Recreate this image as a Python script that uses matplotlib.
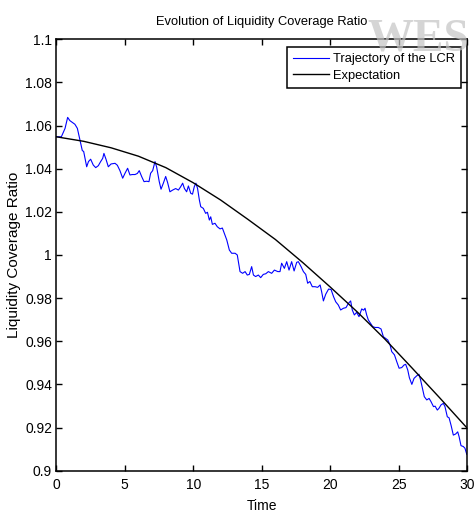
import matplotlib
matplotlib.use("Agg")
import matplotlib.pyplot as plt

# simulated LCR path (time, ratio)
lcr_t = [0.0, 0.37, 0.64, 0.83, 0.99, 1.2, 1.36, 1.54, 1.73, 1.9, 2.0, 2.22, 2.35, 2.51, 2.7,
         2.88, 3.07, 3.24, 3.39, 3.48, 3.63, 3.8, 4.0, 4.29, 4.46, 4.65, 4.85, 5.02, 5.21, 5.38,
         5.55, 5.75, 5.92, 6.06, 6.24, 6.41, 6.6, 6.77, 6.89, 7.04, 7.21, 7.33, 7.52, 7.65, 7.82,
         7.99, 8.13, 8.3, 8.5, 8.72, 8.92, 9.09, 9.23, 9.36, 9.52, 9.65, 9.82, 9.95, 10.08, 10.2,
         10.32, 10.45, 10.55, 10.74, 10.91, 11.04, 11.18, 11.28, 11.4, 11.59, 11.76, 11.96, 12.13,
         12.27, 12.45, 12.64, 12.81, 13.06, 13.22, 13.42, 13.61, 13.79, 13.95, 14.1, 14.27, 14.4,
         14.56, 14.76, 14.93, 15.12, 15.3, 15.49, 15.73, 15.93, 16.18, 16.34, 16.46, 16.66, 16.83,
         17.0, 17.19, 17.37, 17.56, 17.68, 17.88, 18.05, 18.22, 18.36, 18.52, 18.7, 18.9, 19.09,
         19.27, 19.38, 19.51, 19.68, 19.89, 20.07, 20.25, 20.41, 20.6, 20.77, 20.97, 21.16, 21.34,
         21.5, 21.62, 21.77, 21.94, 22.11, 22.31, 22.45, 22.55, 22.67, 22.79, 22.96, 23.11, 23.28,
         23.52, 23.72, 23.89, 24.06, 24.21, 24.38, 24.5, 24.7, 24.87, 25.04, 25.23, 25.4, 25.52,
         25.67, 25.79, 25.97, 26.13, 26.33, 26.49, 26.61, 26.74, 26.88, 27.06, 27.23, 27.37, 27.55,
         27.67, 27.83, 27.95, 28.1, 28.27, 28.39, 28.56, 28.69, 28.84, 29.0, 29.17, 29.32, 29.42,
         29.56, 29.73, 29.85, 29.98]
lcr_v = [1.0548, 1.0548, 1.0587, 1.0638, 1.0623, 1.0613, 1.0606, 1.0587, 1.0533, 1.0484, 1.048,
         1.0409, 1.0433, 1.0444, 1.0417, 1.0405, 1.0414, 1.0433, 1.0448, 1.0471, 1.0444, 1.0409,
         1.0422, 1.0425, 1.0416, 1.0391, 1.0356, 1.0379, 1.0402, 1.0371, 1.0373, 1.0373, 1.0378,
         1.0391, 1.0363, 1.034, 1.0342, 1.034, 1.0379, 1.0391, 1.0433, 1.0408, 1.034, 1.0305,
         1.0333, 1.0364, 1.0336, 1.0293, 1.0301, 1.0308, 1.0301, 1.0317, 1.0333, 1.0308, 1.0293,
         1.032, 1.0286, 1.0282, 1.0317, 1.0333, 1.0308, 1.0255, 1.0224, 1.0216, 1.0193, 1.0198,
         1.0162, 1.0177, 1.0142, 1.0147, 1.0131, 1.0121, 1.0125, 1.0101, 1.007, 1.0023, 1.0008,
         1.0008, 1.0, 0.9923, 0.9915, 0.9923, 0.9907, 0.991, 0.9946, 0.9907, 0.990, 0.9907, 0.9895,
         0.991, 0.9913, 0.9923, 0.9915, 0.993, 0.9923, 0.9923, 0.9962, 0.9938, 0.9969, 0.993,
         0.9969, 0.9926, 0.9966, 0.9969, 0.9946, 0.9923, 0.991, 0.9869, 0.9877, 0.9853, 0.9853,
         0.985, 0.9861, 0.983, 0.9787, 0.9818, 0.9842, 0.984, 0.9807, 0.9783, 0.9768, 0.9745,
         0.9753, 0.9756, 0.9776, 0.9787, 0.9745, 0.9722, 0.9734, 0.9714, 0.975, 0.9744, 0.9753,
         0.9722, 0.9699, 0.9683, 0.9668, 0.9664, 0.9664, 0.9657, 0.9621, 0.9613, 0.9606, 0.9583,
         0.9552, 0.9537, 0.9505, 0.9475, 0.9478, 0.949, 0.9493, 0.9467, 0.9431, 0.940, 0.9428,
         0.944, 0.9447, 0.942, 0.9382, 0.9343, 0.9328, 0.9335, 0.932, 0.9297, 0.9299, 0.9281,
         0.9289, 0.9305, 0.9312, 0.9297, 0.925, 0.9245, 0.9209, 0.9165, 0.917, 0.918, 0.9158,
         0.9116, 0.9112, 0.9104, 0.9076]

# expected LCR
exp_t = [0, 2, 4, 6, 8, 10, 12, 14, 16, 18, 20, 22, 24, 26, 28, 30]
exp_v = [1.0548, 1.0527, 1.0497, 1.0458, 1.0405, 1.0335, 1.0255, 1.0165, 1.0072, 0.9965,
         0.9852, 0.9735, 0.961, 0.9475, 0.9338, 0.9198]

xticks = [0, 5, 10, 15, 20, 25, 30]
yticks = [0.9, 0.92, 0.94, 0.96, 0.98, 1.0, 1.02, 1.04, 1.06, 1.08, 1.1]
ytick_labels = ["0.9", "0.92", "0.94", "0.96", "0.98", "1", "1.02", "1.04", "1.06", "1.08", "1.1"]

plt.rcParams["font.family"] = ["Liberation Sans", "DejaVu Sans"]

fig = plt.figure(figsize=(4.75, 5.13), dpi=100)
ax = fig.add_axes([0.1185, 0.0825, 0.8647, 0.8409])

# faint site watermark behind the plot
fig.text(0.773, 0.902, "WES", family=["Liberation Serif", "DejaVu Serif"], fontsize=33,
         fontweight="bold", color="#c4c4c4", alpha=0.7, zorder=0)

ax.plot(lcr_t, lcr_v, color="#0000ff", lw=0.8, label="Trajectory of the LCR")
ax.plot(exp_t, exp_v, color="black", lw=1.0, label="Expectation")

ax.set_xlim(0, 30)
ax.set_ylim(0.9, 1.1)
ax.set_xticks(xticks)
ax.set_yticks(yticks)
ax.set_yticklabels(ytick_labels)
ax.tick_params(direction="in", top=True, right=True, length=4, width=1.0,
               labelsize=10, colors="black")
ax.tick_params(axis="x", pad=5)
ax.tick_params(axis="y", pad=3)
for sp in ax.spines.values():
    sp.set_linewidth(1.1)
ax.patch.set_alpha(0)

ax.set_title("Evolution of Liquidity Coverage Ratio", fontsize=9.3, pad=10)
ax.set_xlabel("Time", fontsize=10, labelpad=5)
ax.set_ylabel("Liquidity Coverage Ratio", fontsize=11, labelpad=3)

leg = ax.legend(loc="upper right", bbox_to_anchor=(0.9854, 0.9815), borderaxespad=0,
                fontsize=9.3, fancybox=False, framealpha=1, edgecolor="black",
                handlelength=2.8, handletextpad=0.3, borderpad=0.45, labelspacing=0.35)
leg.get_frame().set_linewidth(1.1)

fig.savefig("out.png", dpi=100)
